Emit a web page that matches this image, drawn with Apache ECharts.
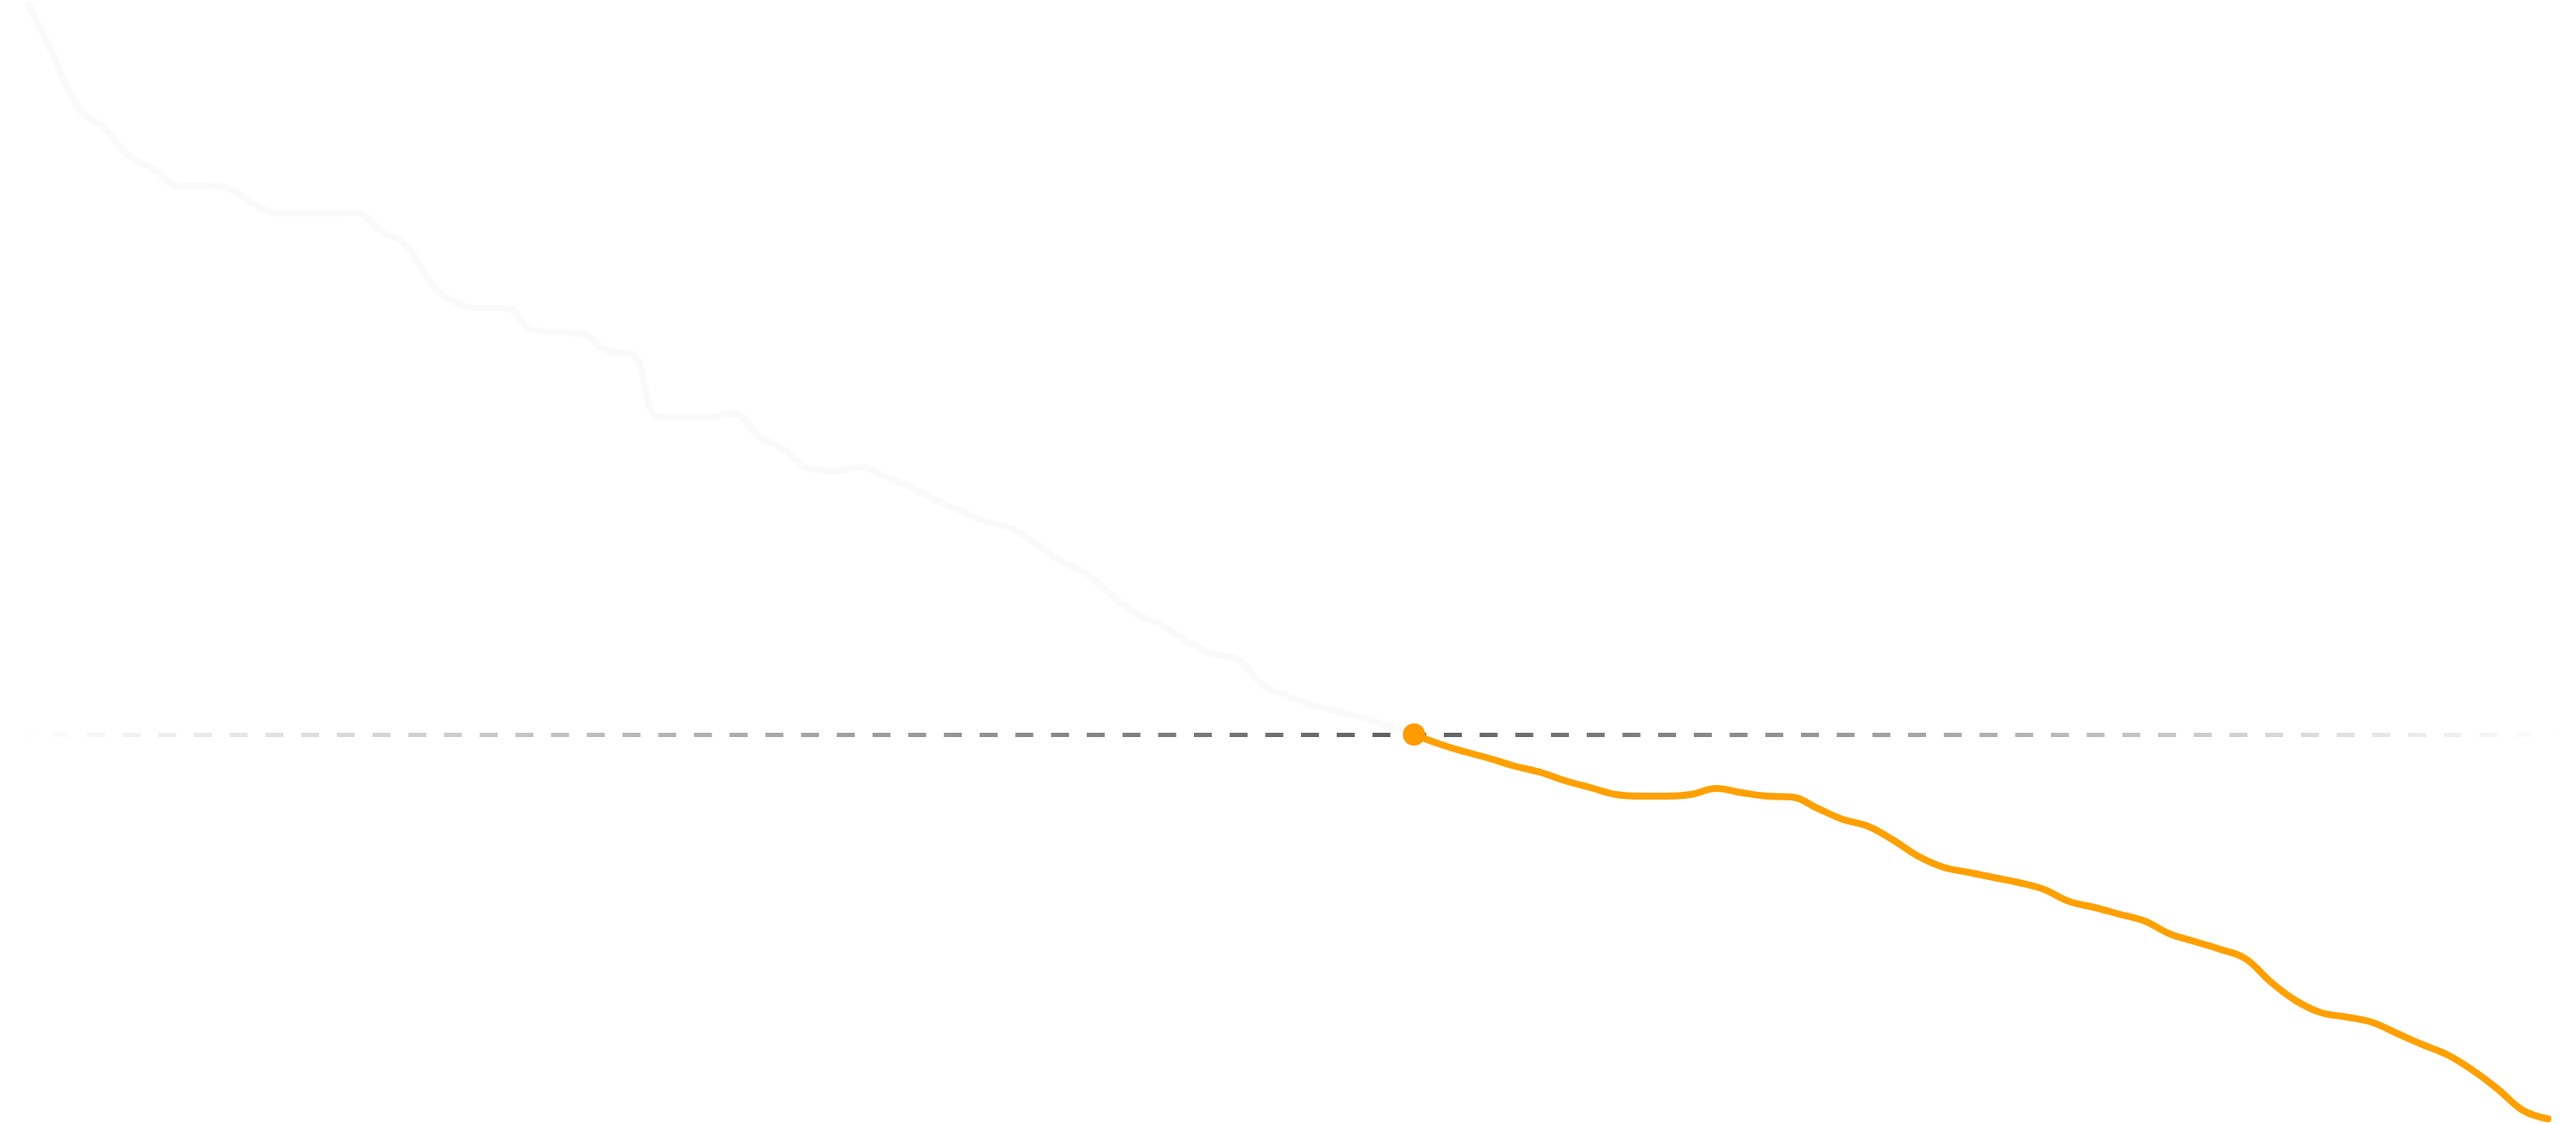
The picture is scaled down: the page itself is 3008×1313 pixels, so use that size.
<!DOCTYPE html>
<html>
<head>
<meta charset="utf-8">
<script src="https://cdn.jsdelivr.net/npm/echarts@6/dist/echarts.min.js"></script>
<style>
  html, body { margin: 0; padding: 0; background: #fff; }
  #chart { width: 3008px; height: 1313px; }
</style>
</head>
<body>
<div id="chart"></div>
<script>
// values, one per day
const values = [
  131.0, 124.8, 118.7, 116.4, 113.1, 111.5, 109.6, 109.6, 109.2, 107.4,
  106.4, 106.4, 106.4, 106.5, 104.3, 102.7, 98.2, 95.9, 95.3, 95.3,
  92.8, 92.5, 92.3, 90.3, 89.9, 82.6, 82.6, 82.6, 83.0, 80.4,
  78.8, 76.6, 76.3, 76.7, 75.7, 74.4, 72.9, 71.6, 70.4, 69.6,
  67.8, 65.7, 64.3, 61.8, 59.6, 58.3, 56.4, 54.9, 54.3, 51.3,
  50.0, 48.9, 48.2, 47.4, 46.5, 45.5, 44.4, 43.5, 42.7, 41.8,
  41.1, 40.1, 39.3, 38.5, 38.3, 38.3, 38.5, 39.2, 38.7, 38.3,
  38.2, 36.9, 35.6, 34.8, 33.2, 31.3, 30.0, 29.4, 28.8, 28.2,
  27.4, 26.0, 25.3, 24.5, 23.7, 22.2, 21.3, 20.4, 19.3, 16.6,
  14.4, 13.0, 12.5, 11.9, 10.6, 9.3, 8.1, 6.3, 4.1, 1.6,
  0.6
];
const days = values.map((v, i) => 'D' + (i + 1));
const currentIndex = 55;

const past = values.map((v, i) => (i <= currentIndex ? v : null));
const future = values.map((v, i) => {
  if (i < currentIndex) return null;
  if (i === currentIndex) return { value: v, symbol: 'circle', symbolSize: 26, itemStyle: { color: '#ff9a00' } };
  return v;
});

const chart = echarts.init(document.getElementById('chart'));
chart.setOption({
  animation: false,
  grid: { left: 18, right: 18, top: 0, bottom: 0 },
  xAxis: {
    type: 'category',
    data: days,
    show: false
  },
  yAxis: {
    type: 'value',
    min: 0,
    max: 131.3,
    show: false
  },
  series: [
    {
      type: 'line',
      data: past,
      smooth: 0.4,
      symbol: 'none',
      clip: false,
      z: 1,
      lineStyle: { color: '#fafafa', width: 8 },
      markLine: {
        silent: true,
        symbol: 'none',
        z: 1,
        label: { show: false },
        data: [{ yAxis: values[currentIndex] }],
        lineStyle: {
          type: [21, 20.7],
          width: 5,
          color: {
            type: 'linear', x: 18, y: 0, x2: 2990, y2: 0, global: true,
            colorStops: [
              { offset: 0, color: 'rgba(95,95,95,0)' },
              { offset: 0.55, color: 'rgba(95,95,95,1)' },
              { offset: 1, color: 'rgba(95,95,95,0)' }
            ]
          }
        }
      }
    },
    {
      type: 'line',
      data: future,
      smooth: 0.4,
      symbol: 'none',
      clip: false,
      z: 10,
      lineStyle: { color: '#ffa000', width: 8, cap: 'round' }
    }
  ]
});
</script>
</body>
</html>
